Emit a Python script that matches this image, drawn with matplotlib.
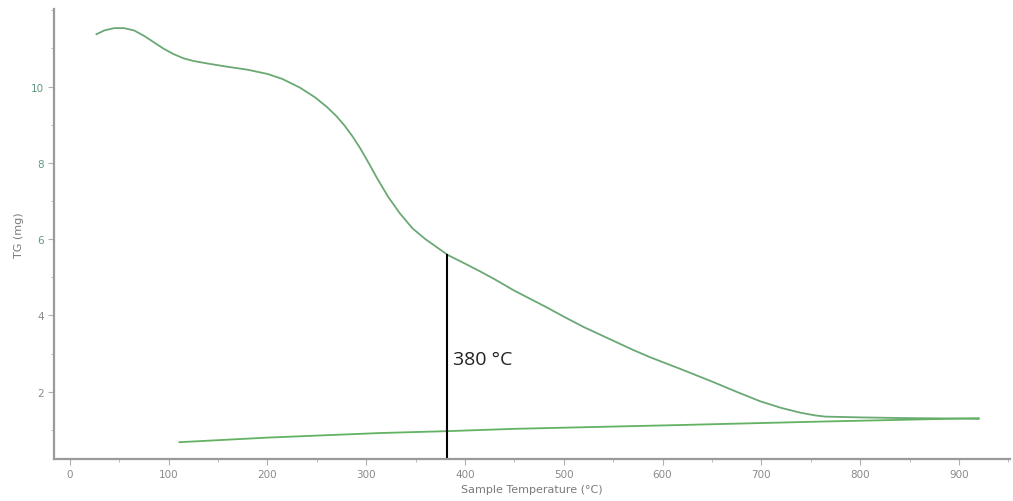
import matplotlib
matplotlib.use("Agg")
import matplotlib.pyplot as plt
from matplotlib.ticker import MultipleLocator

# TG curve (temperature in C, mass in mg)
tg_temp = [27, 35, 45, 55, 65, 75, 85, 95, 105, 115, 125, 140, 159, 180, 200,
           215, 233, 248, 260, 270, 278, 286, 294, 302, 311, 322, 334, 347,
           360, 372, 383, 400, 415, 430, 450, 465, 483, 500, 520, 550, 570, 588,
           618, 650, 675, 699, 720, 740, 755, 765, 800, 850, 900, 920]
tg_mass = [11.37, 11.47, 11.53, 11.53, 11.47, 11.33, 11.16, 10.99, 10.85, 10.74,
           10.67, 10.60, 10.52, 10.44, 10.33, 10.20, 9.97, 9.72, 9.47, 9.22,
           8.98, 8.70, 8.38, 8.02, 7.60, 7.12, 6.68, 6.28, 6.00, 5.78, 5.58,
           5.36, 5.16, 4.95, 4.65, 4.45, 4.21, 3.97, 3.70, 3.34, 3.10, 2.90,
           2.60, 2.27, 2.00, 1.75, 1.58, 1.45, 1.38, 1.35, 1.33, 1.31, 1.30,
           1.29]

# lower (return) trace
base_temp = [111, 200, 314, 383, 450, 618, 760, 920]
base_mass = [0.68, 0.80, 0.92, 0.97, 1.03, 1.13, 1.22, 1.31]

marker_temp = 382
marker_label = "380 °C"

x_ticks = [0, 100, 200, 300, 400, 500, 600, 700, 800, 900]
y_ticks = [2, 4, 6, 8, 10]
y_tick_colors = ["#8a8a8a", "#8a8a8a", "#5f9a7e", "#5f9a7e", "#5f9a7e"]


def main():
    fig = plt.figure(figsize=(10.13, 5.02), dpi=100)
    ax = fig.add_axes([0.0533, 0.0837, 0.944, 0.8963])

    ax.plot(tg_temp, tg_mass, color="#6aa874", lw=1.3)
    ax.plot(base_temp, base_mass, color="#62b262", lw=1.3)

    # annotation line from the curve down to the axis
    y_top = 5.58
    ax.plot([marker_temp, marker_temp], [0.2, y_top], color="black", lw=1.5)
    ax.text(marker_temp + 6, 2.85, marker_label, fontsize=14,
            family=["Open Sans", "DejaVu Sans"], color="#222222",
            va="center", ha="left")

    ax.set_xlim(-16, 952)
    ax.set_ylim(0.24, 12.03)

    ax.set_xticks(x_ticks)
    ax.xaxis.set_minor_locator(MultipleLocator(50))
    ax.set_yticks(y_ticks)
    ax.yaxis.set_minor_locator(MultipleLocator(1))

    for side in ["top", "right"]:
        ax.spines[side].set_visible(False)
    for side in ["left", "bottom"]:
        ax.spines[side].set_color("#9a9a9a")
        ax.spines[side].set_linewidth(1.6)

    ax.tick_params(which="both", colors="#b0b0b0", labelcolor="#8a8a8a",
                   labelsize=7.5)
    ax.tick_params(which="major", length=4)
    ax.tick_params(which="minor", length=2.5)
    for lbl, c in zip(ax.get_yticklabels(), y_tick_colors):
        lbl.set_color(c)

    ax.set_xlabel("Sample Temperature (°C)", fontsize=8, color="#7a7a7a",
                  labelpad=3)
    ax.set_ylabel("TG (mg)", fontsize=8, color="#7a7a7a", labelpad=5)

    fig.savefig("out.png", dpi=100)


if __name__ == "__main__":
    main()
